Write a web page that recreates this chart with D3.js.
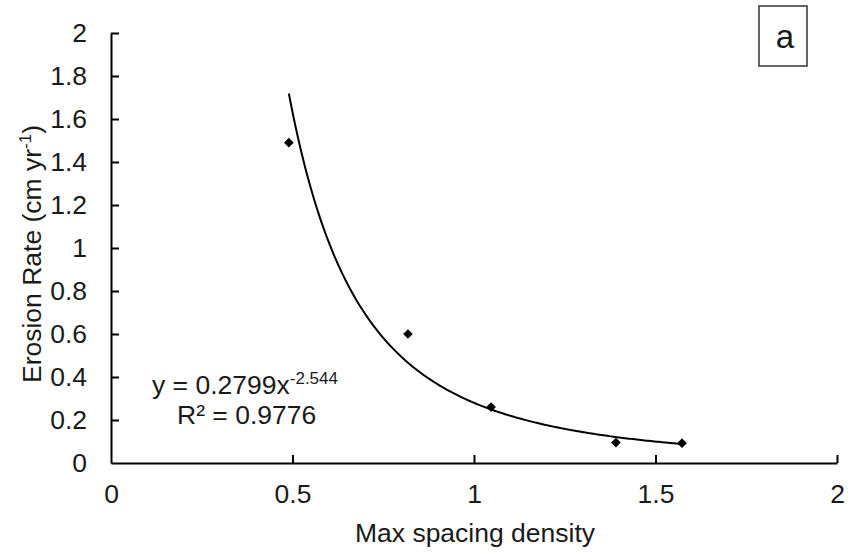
<!DOCTYPE html>
<html lang="en">
  <head>
    <meta charset="utf-8" />
    <title>Erosion rate vs max spacing density</title>
    <script src="https://d3js.org/d3.v7.min.js"></script>
    <style>
      body { margin: 0; background: #fff; }
      text { font-family: "Liberation Sans", Arial, sans-serif; fill: #1a1a1a; }
    </style>
  </head>
  <body>
    <div id="chart"></div>
    <script>
      // observed points
      const spacingDensity = [0.49, 0.818, 1.047, 1.391, 1.573];
      const erosionRate = [1.49, 0.6, 0.26, 0.095, 0.092];
      // power trendline shown on the chart: y = a * x^b
      const trendCoef = [0.2799, -2.544];
      const trendRange = [0.49, 1.573];
      const xTicks = [0, 0.5, 1, 1.5, 2];
      const yTicks = [0, 0.2, 0.4, 0.6, 0.8, 1, 1.2, 1.4, 1.6, 1.8, 2];

      const cW = 848, cH = 555;
      const cFont = 26.5;
      const svg = d3.select("#chart").append("svg")
        .attr("width", cW).attr("height", cH);

      const x = d3.scaleLinear().domain([0, 2]).range([111, 837]);
      const y = d3.scaleLinear().domain([0, 2]).range([463, 33]);

      const xAxis = svg.append("g")
        .attr("transform", `translate(0,${y(0)})`)
        .call(d3.axisBottom(x).tickValues(xTicks).tickFormat(d3.format("")).tickSizeInner(-8).tickSizeOuter(0).tickPadding(21));
      const yAxis = svg.append("g")
        .attr("transform", `translate(${x(0)},0)`)
        .call(d3.axisLeft(y).tickValues(yTicks).tickFormat(d3.format("")).tickSizeInner(-8).tickSizeOuter(0).tickPadding(24));
      [xAxis, yAxis].forEach((g) => {
        g.select(".domain").attr("stroke", "#000").attr("stroke-width", 2);
        g.selectAll(".tick line").attr("stroke", "#000").attr("stroke-width", 2);
        g.selectAll(".tick text").attr("font-size", cFont).attr("fill", "#1a1a1a")
          .style("font-family", "Liberation Sans, Arial, sans-serif");
      });
      xAxis.selectAll(".tick").filter((d) => d === 0).select("line").remove();
      yAxis.selectAll(".tick").filter((d) => d === 0).select("line").remove();

      // trendline
      const curvePts = d3.range(0, 201).map((i) => {
        const xv = trendRange[0] + (trendRange[1] - trendRange[0]) * i / 200;
        return [xv, trendCoef[0] * Math.pow(xv, trendCoef[1])];
      });
      svg.append("path")
        .datum(curvePts)
        .attr("fill", "none")
        .attr("stroke", "#000")
        .attr("stroke-width", 2)
        .attr("d", d3.line().x((d) => x(d[0])).y((d) => y(d[1])));

      // markers
      svg.selectAll(".pt")
        .data(spacingDensity)
        .enter()
        .append("path")
        .attr("class", "pt")
        .attr("d", d3.symbol().type(d3.symbolDiamond2).size(60))
        .attr("fill", "#000")
        .attr("transform", (d, i) => `translate(${x(d)},${y(erosionRate[i])})`);

      // equation
      const eq = svg.append("text").attr("x", 152).attr("y", 394).attr("font-size", cFont);
      eq.append("tspan").text("y = 0.2799x");
      eq.append("tspan").attr("dy", -10).attr("font-size", 17).text("-2.544");
      svg.append("text").attr("x", 177).attr("y", 424).attr("font-size", cFont).text("R² = 0.9776");

      // axis titles
      svg.append("text")
        .attr("x", 475).attr("y", 542)
        .attr("text-anchor", "middle").attr("font-size", cFont)
        .text("Max spacing density");
      const yt = svg.append("text")
        .attr("transform", `translate(41,254) rotate(-90)`)
        .attr("text-anchor", "middle").attr("font-size", cFont);
      yt.append("tspan").text("Erosion Rate (cm yr");
      yt.append("tspan").attr("dy", -10).attr("font-size", 17).text("-1");
      yt.append("tspan").attr("dy", 10).text(")");

      // panel label
      svg.append("rect")
        .attr("x", 759).attr("y", 6).attr("width", 48).attr("height", 60)
        .attr("fill", "#fff").attr("stroke", "#333").attr("stroke-width", 1.5);
      svg.append("text")
        .attr("x", 785).attr("y", 48).attr("text-anchor", "middle").attr("font-size", 33)
        .text("a");
    </script>
  </body>
</html>
